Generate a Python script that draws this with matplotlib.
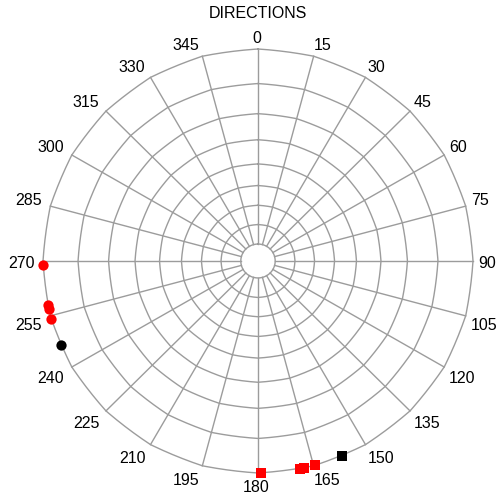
import numpy as np
import matplotlib
matplotlib.use("Agg")
import matplotlib.pyplot as plt

plt.rcParams["font.family"] = ["Liberation Sans", "DejaVu Sans"]

# ---- data -------------------------------------------------------------
title = "DIRECTIONS"
spoke_angles = list(range(0, 360, 15))          # compass bearings, degrees
ring_levels = [17.2, 26.3, 35.6, 45.8, 57.2, 69.5, 83.7, 100.0]
hole_radius = 8.0
outer_radius = 100.0

circle_red_dirs = [268.9, 258.1, 257.0, 254.1]
circle_red_r = [100.0, 100.0, 100.0, 100.0]
circle_black_dirs = [246.7]
circle_black_r = [100.0]
square_red_dirs = [179.3, 168.8, 167.7, 164.7]
square_red_r = [100.0, 100.0, 100.0, 100.0]
square_black_dirs = [157.1]
square_black_r = [100.0]

# ---- figure / axes ----------------------------------------------------
W, H = 499, 502
fig = plt.figure(figsize=(W / 100, H / 100), dpi=100)
cx, cy = 258.0, 262.0      # plot centre in pixels (from top-left)
rx, ry = 215.0, 212.0      # plot radius in pixels
ax = fig.add_axes([(cx - rx) / W, (H - cy - ry) / H, 2 * rx / W, 2 * ry / H],
                  projection="polar")
ax.set_aspect("auto")
ax.set_theta_zero_location("N")
ax.set_theta_direction(-1)
ax.set_ylim(0, outer_radius)
ax.grid(False)
ax.set_xticks([])
ax.set_yticks([])
ax.spines["polar"].set_visible(False)

grid_kw = dict(color="#9c9c9c", lw=1.0, clip_on=False, zorder=1)

# rings: segments between spokes, bowed halfway between chord and arc
step = np.deg2rad(15)
ring_t = np.linspace(0, 2 * np.pi, 24 * 16 + 1)
local = (ring_t % step) - step / 2
chord = np.cos(step / 2) / np.cos(local)
bow = 0.5 * (chord + 1.0)
for r in ring_levels:
    ax.plot(ring_t, r * bow, **grid_kw)

# round hole in the middle
hole_t = np.linspace(0, 2 * np.pi, 181)
ax.plot(hole_t, [hole_radius] * len(hole_t), **grid_kw)

# spokes
for a in spoke_angles:
    t = np.deg2rad(a)
    ax.plot([t, t], [hole_radius, outer_radius], **grid_kw)

# bearing labels outside the outer ring, aligned away from the centre
fs = 11.5
pad, digit_h, x_shift = 7.0, 11.5, -1.5
for a in spoke_angles:
    t = np.deg2rad(a)
    s, c = np.sin(t), np.cos(t)
    ha = "left" if s > 0.01 else ("right" if s < -0.01 else "center")
    if c > 0.01:
        dy = pad * c
    elif c < -0.01:
        dy = pad * c - digit_h
    else:
        dy = -digit_h / 2
    ax.annotate(str(a), xy=(t, outer_radius), xytext=(pad * s + x_shift, dy),
                textcoords="offset pixels", ha=ha, va="baseline",
                fontsize=fs, annotation_clip=False)

# observations
mk = dict(ls="none", ms=7.4, mew=0, clip_on=False, zorder=3)
ax.plot(np.deg2rad(circle_red_dirs), circle_red_r, marker="o", color="#ff0000", **mk)
ax.plot(np.deg2rad(circle_black_dirs), circle_black_r, marker="o", color="black", **mk)
ax.plot(np.deg2rad(square_red_dirs), square_red_r, marker="s", color="#ff0000", **mk)
ax.plot(np.deg2rad(square_black_dirs), square_black_r, marker="s", color="black", **mk)

fig.text(cx / W, 1 - 18.3 / H, title, ha="center", va="baseline", fontsize=fs)

fig.savefig("out.png", dpi=100)
